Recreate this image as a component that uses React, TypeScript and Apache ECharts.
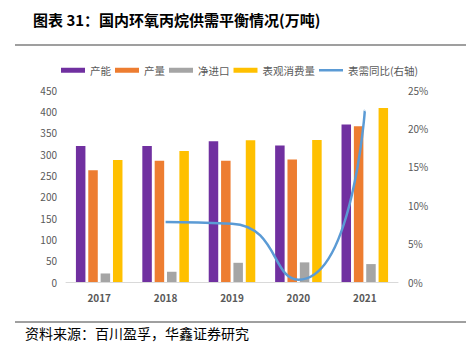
import React, { useEffect, useRef } from "react";
import * as echarts from "echarts";

const categories = ["2017", "2018", "2019", "2020", "2021"];
const capacity = [319, 319, 330, 320, 369];
const output = [262, 284, 284, 287, 365];
const netImport = [20, 24, 45, 46, 42];
const consumption = [286, 307, 332, 333, 408];
const demandYoY = [null, 7.8, 7.6, 0.3, 22.3];

const leftTicks = { min: 0, max: 450, interval: 50 };
const rightTicks = { min: 0, max: 25, interval: 5 };

export default function App() {
  const ref = useRef<HTMLDivElement>(null);
  useEffect(() => {
    const chart = echarts.init(ref.current!, null, { renderer: "svg" });
    const font = "'Noto Sans CJK SC', 'Noto Sans', sans-serif";
    const bar = (name: string, data: number[], color: string) => ({
      name,
      type: "bar",
      data,
      barWidth: 9.5,
      barGap: "30%",
      itemStyle: { color },
    });
    chart.setOption({
      animation: false,
      backgroundColor: "#ffffff",
      textStyle: { fontFamily: font },
      grid: { left: 66, right: 68, top: 90, bottom: 71 },
      legend: {
        top: 60,
        left: 56,
        itemWidth: 24,
        itemHeight: 5,
        itemGap: 4,
        textStyle: { fontSize: 10.5, color: "#595959", fontFamily: font },
        data: [
          { name: "产能", icon: "rect" },
          { name: "产量", icon: "rect" },
          { name: "净进口", icon: "rect" },
          { name: "表观消费量", icon: "rect" },
          { name: "表需同比(右轴)", icon: "path://M0 0h24v2.5H0z" },
        ],
      },
      xAxis: {
        type: "category",
        data: categories,
        axisLine: { lineStyle: { color: "#D9D9D9", width: 1 } },
        axisTick: { show: false },
        axisLabel: { color: "#595959", fontSize: 10, fontWeight: "bold", margin: 10 },
      },
      yAxis: [
        {
          type: "value",
          ...leftTicks,
          splitLine: { show: false },
          axisLine: { show: false },
          axisTick: { show: false },
          axisLabel: { color: "#595959", fontSize: 10, margin: 9 },
        },
        {
          type: "value",
          ...rightTicks,
          splitLine: { show: false },
          axisLine: { show: false },
          axisTick: { show: false },
          axisLabel: { color: "#595959", fontSize: 10, margin: 10, formatter: "{value}%" },
        },
      ],
      series: [
        bar("产能", capacity, "#7030A0"),
        bar("产量", output, "#ED7D31"),
        bar("净进口", netImport, "#A5A5A5"),
        bar("表观消费量", consumption, "#FFC000"),
        {
          name: "表需同比(右轴)",
          type: "line",
          yAxisIndex: 1,
          data: demandYoY,
          smooth: 0.6,
          symbol: "none",
          lineStyle: { color: "#5B9BD5", width: 2.5 },
          itemStyle: { color: "#5B9BD5" },
        },
      ],
      graphic: [
        {
          type: "text",
          left: 33,
          top: 12,
          style: {
            text: "图表 31：国内环氧丙烷供需平衡情况(万吨)",
            fontSize: 15,
            fontWeight: "bold",
            fill: "#000000",
            fontFamily: font,
          },
        },
        {
          type: "line",
          shape: { x1: 15, y1: 45, x2: 466, y2: 45 },
          style: { stroke: "#404040", lineWidth: 1.2 },
        },
        {
          type: "line",
          shape: { x1: 15, y1: 322, x2: 466, y2: 322 },
          style: { stroke: "#404040", lineWidth: 1 },
        },
        {
          type: "text",
          left: 25,
          top: 326,
          style: {
            text: "资料来源：百川盈孚，华鑫证券研究",
            fontSize: 14,
            fill: "#000000",
            fontFamily: font,
          },
        },
      ],
    });
    return () => chart.dispose();
  }, []);
  return (
    <div
      ref={ref}
      style={{ position: "fixed", left: 0, top: 0, width: 466, height: 353 }}
    />
  );
}
